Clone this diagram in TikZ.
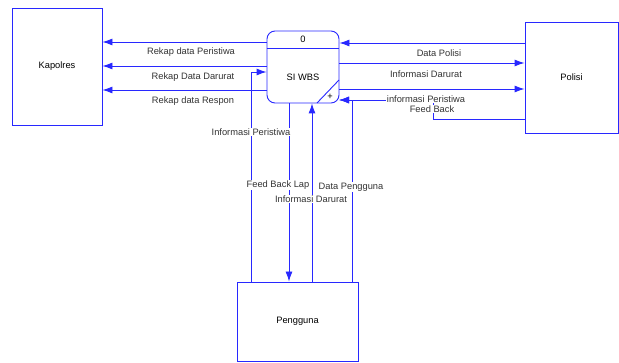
\documentclass[tikz,border=0pt]{standalone}
\usepackage{fontspec}
\setmainfont{Liberation Sans}
\usetikzlibrary{arrows.meta}
\definecolor{dfdblue}{RGB}{40,40,255}
\tikzstyle{entity} = [draw=dfdblue, line width=0.9pt, rectangle, inner sep=0pt]
\tikzstyle{proc} = [entity, rounded corners=8pt]
\tikzstyle{flow} = [draw=dfdblue, line width=0.9pt, -{Latex[length=10pt,width=7pt]}]
\tikzstyle{line} = [draw=dfdblue, line width=0.9pt]
\tikzstyle{flowlabel} = [fill=white, inner sep=0.6pt, text=black!80, font=\fontsize{9.3}{10}\selectfont]

\begin{document}
\begin{tikzpicture}[x=1pt, y=-1pt, font=\fontsize{9.3}{10}\selectfont]
  \useasboundingbox (0,0) rectangle (619,363);
  % external entities and the process
  \node [entity, minimum width=90pt, minimum height=117pt] (kapolres) at (57,66.5) {Kapolres};
  \node [entity, minimum width=93pt, minimum height=111pt] (polisi) at (571.5,77.5) {Polisi};
  \node [entity, minimum width=121pt, minimum height=79pt] (pengguna) at (297.5,321.5) {Pengguna};
  \node [proc, minimum width=72pt, minimum height=72pt] (wbs) at (303,67) {};
  \draw [line] (wbs.west |- 0,48) -- (wbs.east |- 0,48);
  \draw [line] (339,80) -- (317,103);
  \node (wbsno) at (303,39) {0};
  \node (wbsname) at (303,77) {SI WBS};
  \node (plus) at (330,97) {+};

  % flows to Kapolres
  \draw [flow] (wbs.west |- 0,42) -- (kapolres.east |- 0,42);
  \draw [flow] (wbs.west |- 0,66) -- (kapolres.east |- 0,66);
  \draw [flow] (wbs.west |- 0,90) -- (kapolres.east |- 0,90);
  % flows with Polisi
  \draw [flow] (polisi.west |- 0,43) -- (wbs.east |- 0,43);
  \draw [flow] (wbs.east |- 0,63) -- (polisi.west |- 0,63);
  \draw [flow] (wbs.east |- 0,89) -- (polisi.west |- 0,89);
  \draw [flow] (polisi.west |- 0,119) -| (433,100) -- (339,100);
  % flows with Pengguna
  \draw [flow] (pengguna.north -| 251,0) |- (wbs.west |- 0,72);
  \draw [flow] (wbs.south -| 289,0) -- (pengguna.north -| 289,0);
  \draw [flow] (pengguna.north -| 312,0) -- (wbs.south -| 312,0);
  \draw [flow] (pengguna.north -| 352,0) |- (339,100);

  % labels
  \node [flowlabel] (l1) at (191,52) {Rekap data Peristiwa};
  \node [flowlabel] (l2) at (193,77) {Rekap Data Darurat};
  \node [flowlabel] (l3) at (193,101) {Rekap data Respon};
  \node [flowlabel] (l4) at (439,53) {Data Polisi};
  \node [flowlabel] (l5) at (426,74) {Informasi Darurat};
  \node [flowlabel] (l6) at (426,99) {informasi Peristiwa};
  \node [flowlabel] (l7) at (432,109) {Feed Back};
  \node [flowlabel] (l8) at (251,132) {Informasi Peristiwa};
  \node [flowlabel] (l9) at (278,185) {Feed Back Lap};
  \node [flowlabel] (l10) at (351,187) {Data Pengguna};
  \node [flowlabel] (l11) at (311,199) {Informasi Darurat};
\end{tikzpicture}
\end{document}
